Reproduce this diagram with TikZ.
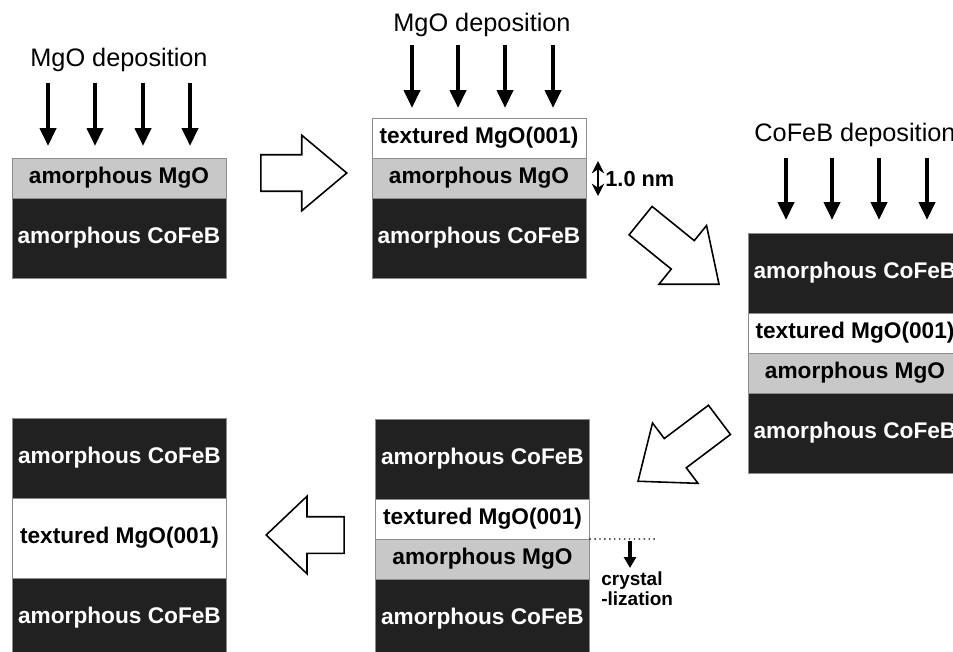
\documentclass[tikz,border=0pt]{standalone}
\usepackage{fontspec}
\setmainfont{Liberation Sans}
\usetikzlibrary{positioning,calc}
\usetikzlibrary{arrows.meta,shapes.arrows}
\definecolor{FilmDark}{RGB}{33,33,33}
\definecolor{FilmGray}{RGB}{200,200,200}
\tikzset{
  layer/.style={draw=black!45,line width=0.5pt,minimum width=4.28cm,inner sep=0pt,outer sep=0pt,
    font=\bfseries\fontsize{12.9}{15}\selectfont},
  cofeb/.style={layer,fill=FilmDark,text=white,minimum height=1.6cm},
  amgo/.style={layer,fill=FilmGray,minimum height=0.8cm},
  tmgo/.style={layer,fill=white,minimum height=0.8cm},
  depo/.style={draw=black,line width=2.3pt,-{Triangle[width=0.32cm,length=0.36cm]}},
  deplabel/.style={font=\fontsize{14.4}{16}\selectfont},
  bigarrow/.style={single arrow,draw=black,fill=white,line width=0.9pt,inner xsep=0pt,
    inner ysep=0.35cm,single arrow head extend=0.39cm,single arrow tip angle=80},
}

\begin{document}
\begin{tikzpicture}[x=0.02cm,y=-0.02cm]
\useasboundingbox (0,0) rectangle (953,652);
% step 1: amorphous MgO on CoFeB
\coordinate (s1) at (119,158);
\node[amgo,below=0pt of s1] (s1a) {amorphous MgO};
\node[cofeb,below=0pt of s1a] (s1b) {amorphous CoFeB};
\node[deplabel] (lab1) at (119,60) {MgO deposition};
\foreach \i/\dx in {1/36,2/83,3/131,4/178}{
  \coordinate (d1s\i) at ($(s1a.north west)+(\dx,-75)$);
  \coordinate (d1e\i) at ($(s1a.north west)+(\dx,-12)$);
  \draw[depo] (d1s\i) -- (d1e\i);
}
% step 2: textured MgO grows on top
\coordinate (s2) at (479,118);
\node[tmgo,below=0pt of s2] (s2a) {textured MgO(001)};
\node[amgo,below=0pt of s2a] (s2b) {amorphous MgO};
\node[cofeb,below=0pt of s2b] (s2c) {amorphous CoFeB};
\node[deplabel] (lab2) at (482,25) {MgO deposition};
\foreach \i/\dx in {1/40,2/86,3/133,4/181}{
  \coordinate (d2s\i) at ($(s2a.north west)+(\dx,-73)$);
  \coordinate (d2e\i) at ($(s2a.north west)+(\dx,-10)$);
  \draw[depo] (d2s\i) -- (d2e\i);
}
\coordinate (nmA) at (598,161);
\coordinate (nmB) at (598,196);
\draw[line width=1.2pt,{Stealth[length=7pt,width=7pt]}-{Stealth[length=7pt,width=7pt]}] (nmA) -- (nmB);
\node[anchor=west,inner sep=0pt,font=\bfseries\fontsize{12.4}{14}\selectfont] (nm) at (605,179) {1.0 nm};
% step 3: CoFeB on top
\coordinate (s3) at (855,233);
\node[cofeb,below=0pt of s3] (s3a) {amorphous CoFeB};
\node[tmgo,below=0pt of s3a] (s3b) {textured MgO(001)};
\node[amgo,below=0pt of s3b] (s3c) {amorphous MgO};
\node[cofeb,below=0pt of s3c] (s3d) {amorphous CoFeB};
\node[deplabel] (lab3) at (855,135) {CoFeB deposition};
\foreach \i/\dx in {1/38,2/84,3/131,4/179}{
  \coordinate (d3s\i) at ($(s3a.north west)+(\dx,-75)$);
  \coordinate (d3e\i) at ($(s3a.north west)+(\dx,-13)$);
  \draw[depo] (d3s\i) -- (d3e\i);
}
% step 4: crystallization front
\coordinate (s4) at (482.5,419);
\node[cofeb,below=0pt of s4] (s4a) {amorphous CoFeB};
\node[tmgo,below=0pt of s4a] (s4b) {textured MgO(001)};
\node[amgo,below=0pt of s4b] (s4c) {amorphous MgO};
\node[cofeb,below=0pt of s4c] (s4d) {amorphous CoFeB};
\coordinate (dotB) at (655,539);
\draw[dotted,line width=0.8pt] (s4c.north east) -- (dotB);
\coordinate (cr1) at (630,541);
\coordinate (cr2) at (630,568);
\draw[line width=1.8pt,-{Triangle[width=0.24cm,length=0.22cm]}] (cr1) -- (cr2);
\node[anchor=north west,align=left,inner sep=0pt,font=\bfseries\fontsize{10.8}{11.6}\selectfont]
  (cryst) at (601,571) {crystal\\-lization};
% step 5: fully textured barrier
\coordinate (s5) at (119.5,418);
\node[cofeb,below=0pt of s5] (s5a) {amorphous CoFeB};
\node[tmgo,minimum height=1.6cm,below=0pt of s5a] (s5b) {textured MgO(001)};
\node[cofeb,below=0pt of s5b] (s5c) {amorphous CoFeB};
% process arrows
\node[bigarrow,minimum height=1.72cm,anchor=tip] (go1) at (348,173) {};
\node[bigarrow,minimum height=2.02cm,rotate=-39,single arrow tip angle=78,anchor=tip] (go2) at (720,285) {};
\node[bigarrow,minimum height=2.04cm,rotate=217,single arrow tip angle=78,anchor=tip] (go3) at (637,482) {};
\node[bigarrow,minimum height=1.56cm,rotate=180,single arrow head extend=0.41cm,single arrow tip angle=87,anchor=tip] (go4) at (265,535) {};
\end{tikzpicture}
\end{document}
